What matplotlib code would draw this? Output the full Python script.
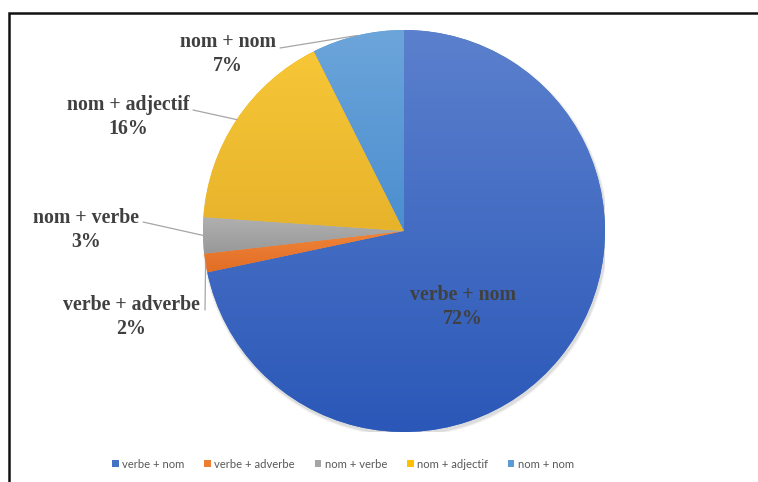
import numpy as np
import matplotlib
matplotlib.use("Agg")
import matplotlib.pyplot as plt
from matplotlib.patches import Rectangle, Circle
from matplotlib.colors import to_rgb

# ---- data ----
categories = ["verbe + nom", "verbe + adverbe", "nom + verbe", "nom + adjectif", "nom + nom"]
values = [71.7, 1.5, 2.9, 16.5, 7.4]
pct_labels = ["72%", "2%", "3%", "16%", "7%"]

# ---- style ----
colors_top = ["#5B80CD", "#F0853A", "#B0B0B0", "#F7C737", "#6CA5DA"]
colors_bot = ["#2B58B8", "#E26D25", "#989898", "#E7B32B", "#4B8ECF"]
base_colors = ["#4472C4", "#ED7D31", "#A5A5A5", "#FFC000", "#5B9BD5"]

W, H = 758, 482
fig = plt.figure(figsize=(W / 100, H / 100), dpi=100)

def fx(px):
    return px / W

def fy(py):
    return 1 - py / H

# border frame (extends past right and bottom edges)
fig.add_artist(Rectangle((fx(9), fy(500)), fx(800) - fx(9), fy(13) - fy(500),
                         transform=fig.transFigure, fill=False,
                         edgecolor="#111111", linewidth=1.8))

cx, cy, R = 404, 231, 201
ax = fig.add_axes([fx(cx - R), fy(cy + R), 2 * R / W, 2 * R / H])

# soft shadow
for i, a in enumerate([0.05, 0.07, 0.10]):
    ax.add_patch(Circle((0.006, -0.012), 1.0 + 0.012 - i * 0.004,
                        facecolor="#606060", edgecolor="none", alpha=a, zorder=0))

wedges, _ = ax.pie(values, startangle=90, counterclock=False,
                   colors=base_colors, radius=1.0,
                   wedgeprops=dict(linewidth=0, edgecolor="none"))
ax.set_xlim(-1, 1)
ax.set_ylim(-1, 1)
ax.set_axis_off()

# vertical gradient in each wedge
for w, ct, cb in zip(wedges, colors_top, colors_bot):
    ext = w.get_path().get_extents()
    n = 128
    t = np.linspace(0, 1, n)[:, None]
    img = (1 - t) * np.array(to_rgb(ct)) + t * np.array(to_rgb(cb))
    img = img[:, None, :]
    im = ax.imshow(img, extent=[ext.x0, ext.x1, ext.y0, ext.y1], aspect="auto",
                   origin="upper", zorder=w.get_zorder() + 0.1, interpolation="bilinear")
    im.set_clip_path(w)
ax.set_xlim(-1, 1)
ax.set_ylim(-1, 1)

# ---- labels ----
label_color = "#404040"
label_font = dict(family=["Liberation Serif", "DejaVu Serif"], weight="bold",
                  fontsize=14.3, color=label_color)
# text block centre (px) and leader start (px) for each category
label_pos = [(463, 307), (131, 317), (86, 230), (128, 117), (228, 54)]
leader_start = [None, (205, 310), (143, 222), (193, 110), (280, 48)]

for i, (w, cat, pct) in enumerate(zip(wedges, categories, pct_labels)):
    lx, ly = label_pos[i]
    fig.text(fx(lx), fy(ly), f"{cat}\n{pct}", ha="center", va="center",
             linespacing=1.22, **label_font)
    if leader_start[i] is not None:
        ang = np.deg2rad((w.theta1 + w.theta2) / 2)
        ex, ey = np.cos(ang), np.sin(ang)
        ax.annotate("", xy=(ex, ey), xycoords="data",
                    xytext=(fx(leader_start[i][0]), fy(leader_start[i][1])),
                    textcoords="figure fraction",
                    arrowprops=dict(arrowstyle="-", color="#A6A6A6", lw=0.9,
                                    shrinkA=0, shrinkB=0))

# ---- legend ----
leg = fig.legend(wedges, categories, loc="center", ncol=5,
                 bbox_to_anchor=(fx(343), fy(464)), frameon=False,
                 prop=dict(family=["Lato", "DejaVu Sans"], size=8.1),
                 handlelength=0.6, handleheight=0.6, handletextpad=0.3,
                 columnspacing=1.75, borderpad=0)
for t in leg.get_texts():
    t.set_color("#595959")

fig.savefig("out.png", dpi=100, facecolor="white")
